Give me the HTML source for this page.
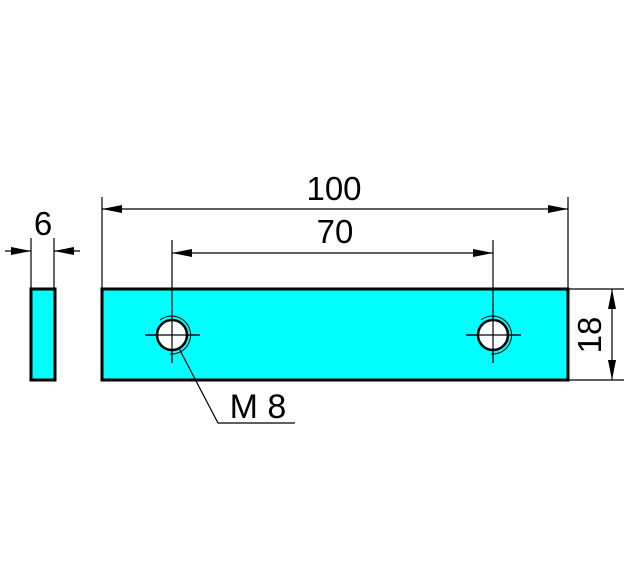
<!DOCTYPE html>
<html><head><style>body{margin:0;background:#fff}svg{display:block}</style></head><body>
<svg width="640" height="584" viewBox="0 0 640 584" xmlns="http://www.w3.org/2000/svg" font-family="Liberation Sans, sans-serif">
<defs>
<marker id="a" viewBox="0 0 20 8" refX="20" refY="4" markerWidth="20" markerHeight="8" markerUnits="userSpaceOnUse" orient="auto-start-reverse"><path d="M0,0 L20,4 L0,8 Z" fill="#000"/></marker>
</defs>
<rect x="31" y="289" width="24" height="91" fill="#00ffff" stroke="#000" stroke-width="3"/>
<rect x="102" y="289" width="466" height="91" fill="#00ffff" stroke="#000" stroke-width="3"/>
<g stroke="#000" stroke-width="1.2" fill="none">
<line x1="31" y1="238" x2="31" y2="289"/><line x1="54" y1="238" x2="54" y2="289"/>
<line x1="5" y1="251" x2="31" y2="251" marker-end="url(#a)"/>
<line x1="80" y1="251" x2="54" y2="251" marker-end="url(#a)"/>
<line x1="102" y1="197" x2="102" y2="289"/><line x1="568" y1="197" x2="568" y2="289"/>
<line x1="102" y1="209" x2="568" y2="209" marker-start="url(#a)" marker-end="url(#a)"/>
<line x1="172" y1="240" x2="172" y2="363"/><line x1="493" y1="240" x2="493" y2="363"/>
<line x1="172" y1="253" x2="493" y2="253" marker-start="url(#a)" marker-end="url(#a)"/>
<line x1="568" y1="289" x2="624" y2="289"/><line x1="568" y1="380" x2="624" y2="380"/>
<line x1="612" y1="289" x2="612" y2="380" marker-start="url(#a)" marker-end="url(#a)"/>
<line x1="145" y1="335" x2="200" y2="335"/><line x1="466" y1="335" x2="521" y2="335"/>
<polyline points="172,335 218,423 295,423"/>
</g>
<g stroke="#000" fill="#fff">
<circle cx="172" cy="335" r="15" stroke-width="2.5"/>
<circle cx="493" cy="335" r="15" stroke-width="2.5"/>
</g>
<g stroke="#000" stroke-width="1" fill="none">
<path d="M160,320 A19,19 0 1,1 170,354"/>
<path d="M481,320 A19,19 0 1,1 491,354"/>
</g>
<g stroke="#000" stroke-width="1.2">
<line x1="145" y1="335" x2="200" y2="335"/><line x1="172" y1="320" x2="172" y2="363"/>
<line x1="466" y1="335" x2="521" y2="335"/><line x1="493" y1="320" x2="493" y2="363"/>
</g>
<g font-size="33" fill="#000" text-anchor="middle">
<text x="334" y="200">100</text>
<text x="335" y="243">70</text>
<text x="43" y="235">6</text>
<text x="258" y="418" font-size="34">M 8</text>
<text transform="translate(601,335) rotate(-90)" text-anchor="middle">18</text>
</g>
</svg>
</body></html>
